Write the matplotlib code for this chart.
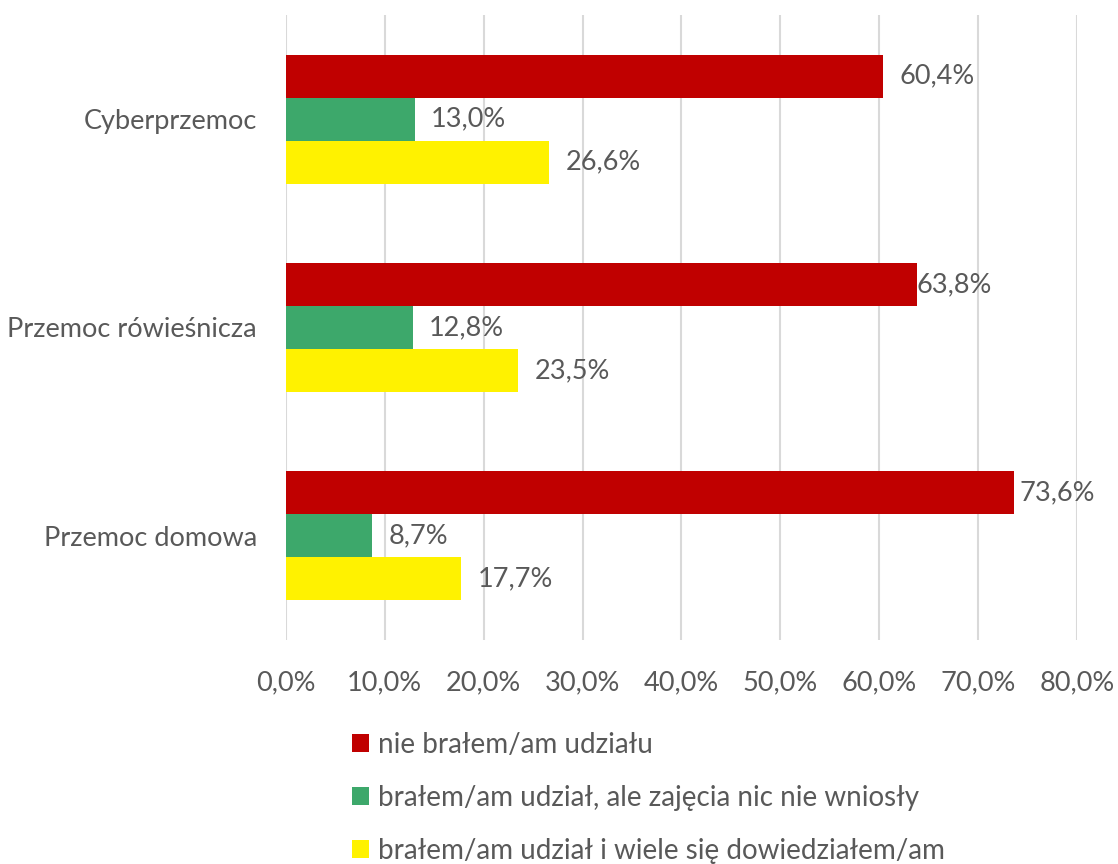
import matplotlib.pyplot as plt
import numpy as np

# categories top to bottom as shown
categories = ["Cyberprzemoc", "Przemoc rówieśnicza", "Przemoc domowa"]
series_names = ["nie brałem/am udziału",
                "brałem/am udział, ale zajęcia nic nie wniosły",
                "brałem/am udział i wiele się dowiedziałem/am"]
nie_bral = [60.4, 63.8, 73.6]
bez_efektu = [13.0, 12.8, 8.7]
duzo_wiedzy = [26.6, 23.5, 17.7]
xticks = [0, 10, 20, 30, 40, 50, 60, 70, 80]

colors = ["#C00000", "#3DA86B", "#FFF200"]
text_col = "#595959"

plt.rcParams['font.family'] = ['Lato', 'DejaVu Sans']
fs = 19.5

fig = plt.figure(figsize=(11.18, 8.64), dpi=100)
ax = fig.add_axes([0.2558, 0.2593, 0.9633 - 0.2558, 0.9826 - 0.2593])

y = np.arange(len(categories))
h = 0.207
series = [nie_bral, bez_efektu, duzo_wiedzy]
# label offsets in points (excel nudges some red labels inward)
pads = [[12, 0, 4], [12, 12, 12], [12, 12, 12]]
bars = []
for i, vals in enumerate(series):
    pos = y + (i - 1) * h
    b = ax.barh(pos, vals, height=h, color=colors[i], label=series_names[i], zorder=3)
    bars.append(b)
    for p, v, pd_ in zip(pos, vals, pads[i]):
        ax.annotate(f"{v:.1f}%".replace(".", ","), (v, p), xytext=(pd_, 0),
                    textcoords="offset points", va="center", ha="left",
                    fontsize=fs, color=text_col, zorder=4)

ax.set_ylim(len(categories) - 0.5, -0.5)
ax.set_xlim(0, 80)
ax.set_xticks(xticks)
ax.set_xticklabels([f"{t:.1f}%".replace(".", ",") for t in xticks], fontsize=fs, color=text_col)
ax.set_yticks(y)
ax.set_yticklabels(categories, fontsize=fs, color=text_col)
ax.tick_params(axis='both', length=0)
ax.tick_params(axis='x', pad=22)
ax.tick_params(axis='y', pad=21)
ax.grid(axis='x', color="#D9D9D9", linewidth=1.5, zorder=0)
for s in ax.spines.values():
    s.set_visible(False)

fig.legend(handles=bars, labels=series_names, loc="upper left",
           bbox_to_anchor=(0.305, 0.166), frameon=False, fontsize=20,
           labelcolor=text_col, handlelength=0.62, handleheight=0.62,
           handletextpad=0.3, labelspacing=0.97, borderaxespad=0)

fig.savefig("out.png", dpi=100)
